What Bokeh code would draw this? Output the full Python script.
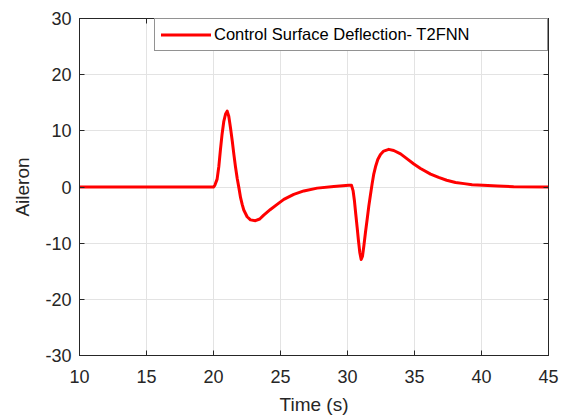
from bokeh.plotting import figure
from bokeh.models import (LinearAxis, Range1d, FixedTicker, Legend, LegendItem,
                          CustomJSTickFormatter)
from bokeh.embed import file_html
from bokeh.resources import INLINE

# Data
time_s = [10.0, 20.0, 20.1, 20.27, 20.4, 20.52, 20.64, 20.77, 20.9, 21.02,
          21.14, 21.27, 21.4, 21.52, 21.64, 21.77, 21.9, 22.02, 22.14, 22.26,
          22.51, 22.76, 23.13, 23.45, 23.75, 24.25, 24.75, 25.25, 25.99, 26.74,
          27.74, 28.98, 30.1, 30.3, 30.42, 30.52, 30.62, 30.72, 30.82, 30.92,
          31.02, 31.12, 31.22, 31.34, 31.47, 31.59, 31.72, 31.84, 31.96, 32.09,
          32.26, 32.46, 32.7, 33.08, 33.45, 33.96, 34.45, 34.95, 35.45, 36.2,
          36.8, 37.4, 38.06, 38.7, 39.3, 40.1, 41.2, 42.4, 45.0]
aileron = [0.0, 0.0, 0.3, 1.4, 3.7, 6.7, 9.4, 11.7, 13.0, 13.5,
           12.6, 10.5, 8.2, 5.8, 3.6, 1.5, -0.2, -1.9, -3.1, -4.1,
           -5.3, -5.85, -6.0, -5.7, -5.0, -4.0, -3.1, -2.2, -1.3, -0.7,
           -0.2, 0.1, 0.3, 0.3, -0.7, -2.5, -4.9, -7.2, -9.6, -11.7,
           -12.9, -12.3, -10.5, -8.1, -5.7, -3.4, -1.3, 0.6, 2.3, 3.6,
           4.9, 5.8, 6.4, 6.7, 6.5, 5.9, 5.0, 4.1, 3.3, 2.3,
           1.7, 1.2, 0.8, 0.6, 0.4, 0.3, 0.2, 0.05, 0.0]
x_ticks = [10, 15, 20, 25, 30, 35, 40, 45]
y_ticks = [-30, -20, -10, 0, 10, 20, 30]
series_name = "Control Surface Deflection- T2FNN"

FONT = "Liberation Sans"
AX = "#262626"

p = figure(width=567, height=418, output_backend="svg", toolbar_location=None,
           x_range=Range1d(10, 45), y_range=Range1d(-30, 30),
           min_border_left=79, min_border_right=19, min_border_top=18,
           min_border_bottom=63, background_fill_color="white",
           border_fill_color="white")

r = p.line(time_s, aileron, line_color="#ff0000", line_width=3,
           line_join="round", line_cap="round")

p.outline_line_color = AX
p.outline_line_width = 1

plain = CustomJSTickFormatter(code="return String(tick);")
for ax in (p.xaxis[0], p.yaxis[0]):
    ax.axis_line_color = AX
    ax.major_tick_line_color = AX
    ax.major_tick_in = 5
    ax.major_tick_out = 0
    ax.minor_tick_line_color = None
    ax.major_label_text_font = FONT
    ax.major_label_text_font_size = "18px"
    ax.major_label_text_color = AX
    ax.axis_label_text_font = FONT
    ax.axis_label_text_font_size = "19px"
    ax.axis_label_text_font_style = "normal"
    ax.axis_label_text_color = AX
    ax.formatter = plain

p.xaxis[0].ticker = FixedTicker(ticks=x_ticks)
p.yaxis[0].ticker = FixedTicker(ticks=y_ticks)
p.xaxis[0].axis_label = "Time (s)"
p.yaxis[0].axis_label = "Aileron"
p.xaxis[0].major_label_standoff = 14
p.xaxis[0].axis_label_standoff = 8
p.xaxis[0].major_label_text_line_height = 1.0
p.xaxis[0].axis_label_text_line_height = 1.0
p.yaxis[0].major_label_standoff = 8
p.yaxis[0].axis_label_standoff = 9

# box ticks on top and right
blank = CustomJSTickFormatter(code="return '';")
top = LinearAxis(ticker=FixedTicker(ticks=x_ticks), formatter=blank,
                 major_label_standoff=0, major_tick_in=5, major_tick_out=0,
                 minor_tick_line_color=None, axis_line_color=AX,
                 major_tick_line_color=AX)
right = LinearAxis(ticker=FixedTicker(ticks=y_ticks), formatter=blank,
                   major_label_standoff=0, major_tick_in=5, major_tick_out=0,
                   minor_tick_line_color=None, axis_line_color=AX,
                   major_tick_line_color=AX)
p.add_layout(top, "above")
p.add_layout(right, "right")

p.xgrid.ticker = FixedTicker(ticks=x_ticks)
p.ygrid.ticker = FixedTicker(ticks=y_ticks)
p.grid.grid_line_color = "#e3e3e3"
p.grid.grid_line_width = 1

legend = Legend(items=[LegendItem(label=series_name, renderers=[r])],
                location="top_right", margin=0, padding=6, spacing=0,
                glyph_width=50, glyph_height=19, label_height=19,
                label_width=327, label_standoff=3,
                label_text_font=FONT, label_text_font_size="16.5px",
                label_text_color="#000000",
                border_line_color=AX, border_line_width=1,
                background_fill_color="white", background_fill_alpha=1)
p.add_layout(legend, "center")

open("out.html", "w").write(file_html(p, INLINE))
